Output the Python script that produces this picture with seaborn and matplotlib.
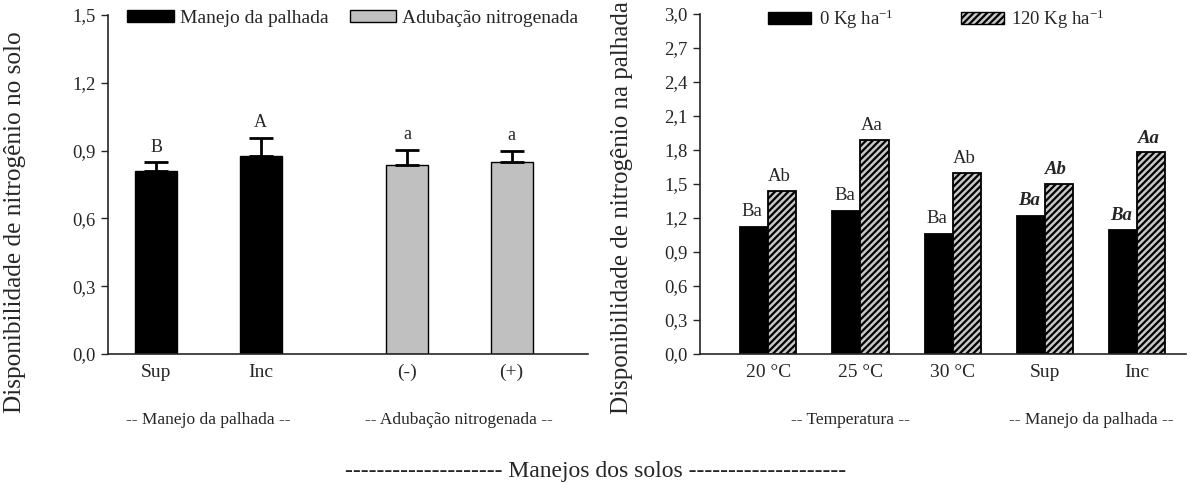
import numpy as np
import pandas as pd
import matplotlib
matplotlib.use("Agg")
import matplotlib.pyplot as plt
from matplotlib.patches import Patch
import seaborn as sns

# ---------------- data ----------------
left_cats = ["Sup", "Inc", "(-)", "(+)"]
left_groups = ["Manejo da palhada", "Manejo da palhada", "Adubação nitrogenada", "Adubação nitrogenada"]
left_vals = [0.81, 0.875, 0.835, 0.85]
left_err = [0.038, 0.08, 0.067, 0.047]
left_letters = ["B", "A", "a", "a"]

right_cats = ["20 °C", "25 °C", "30 °C", "Sup", "Inc"]
doses = ["0 Kg ha$^{-1}$", "120 Kg ha$^{-1}$"]
right_0 = [1.12, 1.26, 1.06, 1.22, 1.09]
right_120 = [1.44, 1.89, 1.60, 1.50, 1.78]
letters_0 = ["Ba", "Ba", "Ba", "Ba", "Ba"]
letters_120 = ["Ab", "Aa", "Ab", "Ab", "Aa"]
bold_italic = [False, False, False, True, True]

sns.set_theme(style="ticks")
plt.rcParams["font.family"] = ["Liberation Serif", "DejaVu Serif"]
plt.rcParams["mathtext.fontset"] = "custom"
plt.rcParams["mathtext.rm"] = "Liberation Serif"
plt.rcParams["mathtext.it"] = "Liberation Serif:italic"
plt.rcParams["hatch.linewidth"] = 1.6

W, H = 1190, 495
fig = plt.figure(figsize=(11.9, 4.95), dpi=100)
ax1 = fig.add_axes([108 / W, 1 - 354 / H, (588 - 108) / W, (354 - 15) / H])
ax2 = fig.add_axes([700 / W, 1 - 354 / H, (1186 - 700) / W, (354 - 14) / H])

# ---------------- left panel ----------------
xpos = np.array([0.0, 1.0, 2.40, 3.40])
dfl = pd.DataFrame({"x": xpos, "val": left_vals, "grupo": left_groups})
pal_l = {"Manejo da palhada": "black", "Adubação nitrogenada": "#c0c0c0"}
sns.barplot(data=dfl, x="x", y="val", hue="grupo", palette=pal_l, native_scale=True,
            width=0.40, edgecolor="black", linewidth=1.0, legend=False, ax=ax1, errorbar=None)
ax1.errorbar(xpos, left_vals, yerr=[np.zeros(4), left_err], fmt="none", ecolor="black",
             elinewidth=2, capsize=8.3, capthick=2)
for x, v, e, t in zip(xpos, left_vals, left_err, left_letters):
    ax1.text(x, v + e + 0.03, t, ha="center", va="bottom", fontsize=13)
ax1.set_xlim(-0.46, 4.13)
ax1.set_ylim(0, 1.5)
ax1.set_xticks(xpos)
ax1.set_xticklabels(left_cats, fontsize=14)
yt = np.arange(0, 1.51, 0.3)
ax1.set_yticks(yt)
ax1.set_yticklabels([f"{v:.1f}".replace(".", ",") for v in yt], fontsize=13.5)
ax1.tick_params(axis="x", length=0, pad=7)
ax1.tick_params(axis="y", length=5, width=1, direction="out", pad=4)
ax1.set_xlabel("")
ax1.set_ylabel("Disponibilidade de nitrogênio no solo", fontsize=18.2)
ax1.yaxis.set_label_coords((26 - 108) / 480, 0.39)
for s in ["top", "right"]:
    ax1.spines[s].set_visible(False)
for s in ["left", "bottom"]:
    ax1.spines[s].set_linewidth(1.2)
h1 = [Patch(facecolor="black", edgecolor="black"),
      Patch(facecolor="#c0c0c0", edgecolor="black")]
ax1.legend(h1, ["Manejo da palhada", "Adubação nitrogenada"], loc="center left",
           bbox_to_anchor=((127 - 108) / 480, 0.99), ncol=2, frameon=False, fontsize=14,
           handlelength=2.4, handleheight=0.55, handletextpad=0.3, columnspacing=1.1,
           borderaxespad=0, borderpad=0)

# ---------------- right panel ----------------
dfr = pd.DataFrame({"cat": right_cats * 2,
                    "val": right_0 + right_120,
                    "dose": [doses[0]] * 5 + [doses[1]] * 5})
sns.barplot(data=dfr, x="cat", y="val", hue="dose", order=right_cats, hue_order=doses,
            palette=["black", "#c8c8c8"], width=0.61, edgecolor="black", linewidth=1.3,
            legend=False, ax=ax2, errorbar=None)
bars = ax2.patches
for p in bars[5:10]:
    p.set_hatch("/////")
for i in range(5):
    b0, b1 = bars[i], bars[5 + i]
    kw = dict(fontsize=13.5, ha="center", va="bottom")
    if bold_italic[i]:
        kw.update(fontweight="bold", style="italic")
    ax2.text(b0.get_x() + b0.get_width() / 2 - 0.02, b0.get_height() + 0.06, letters_0[i], **kw)
    ax2.text(b1.get_x() + b1.get_width() / 2 - 0.03, b1.get_height() + 0.05, letters_120[i], **kw)
ax2.set_xlim(-0.74, 4.53)
ax2.set_ylim(0, 3.0)
yt2 = np.arange(0, 3.01, 0.3)
ax2.set_yticks(yt2)
ax2.set_yticklabels([f"{v:.1f}".replace(".", ",") for v in yt2], fontsize=13.5)
ax2.set_xticks(range(5))
ax2.set_xticklabels(right_cats, fontsize=14)
ax2.tick_params(axis="x", length=0, pad=7)
ax2.tick_params(axis="y", length=5, width=1, direction="out", pad=4)
ax2.set_xlabel("")
ax2.set_ylabel("Disponibilidade de nitrogênio na palhada", fontsize=18)
ax2.yaxis.set_label_coords((633 - 700) / 486, 0.43)
for s in ["top", "right"]:
    ax2.spines[s].set_visible(False)
for s in ["left", "bottom"]:
    ax2.spines[s].set_linewidth(1.2)
h2 = [Patch(facecolor="black", edgecolor="black"),
      Patch(facecolor="#c8c8c8", edgecolor="black", hatch="/////")]
ax2.legend(h2, doses, loc="center left", bbox_to_anchor=((768 - 700) / 486, 0.985), ncol=2,
           frameon=False, fontsize=13.5, handlelength=2.3, handleheight=0.6,
           handletextpad=0.4, columnspacing=3.6, borderaxespad=0, borderpad=0)

# ---------------- group labels ----------------
gy = 1 - 420 / H
fig.text(208 / W, gy, "-- Manejo da palhada --", ha="center", va="center", fontsize=12.5)
fig.text(459 / W, gy, "-- Adubação nitrogenada --", ha="center", va="center", fontsize=12.5)
fig.text(850 / W, gy, "-- Temperatura --", ha="center", va="center", fontsize=12.5)
fig.text(1091 / W, gy, "-- Manejo da palhada --", ha="center", va="center", fontsize=12.5)
fig.text(596 / W, 1 - 472 / H, "-------------------- Manejos dos solos --------------------",
         ha="center", va="center", fontsize=17)

fig.savefig("out.png", dpi=100)
